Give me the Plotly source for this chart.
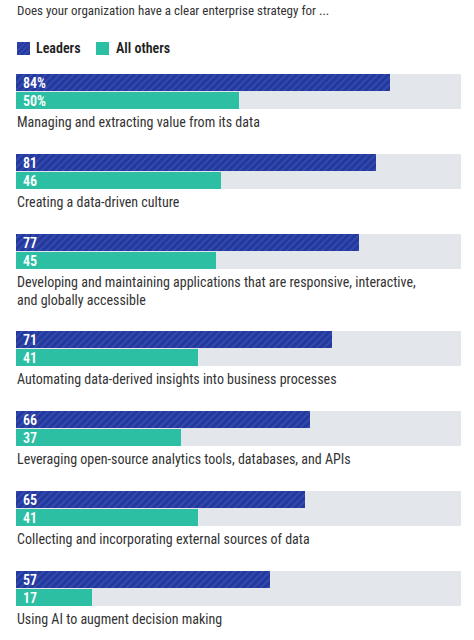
import plotly.graph_objects as go

title = "Does your organization have a clear enterprise strategy for ..."
categories = [
    "Managing and extracting value from its data",
    "Creating a data-driven culture",
    "Developing and maintaining applications that are responsive, interactive,<br>and globally accessible",
    "Automating data-derived insights into business processes",
    "Leveraging open-source analytics tools, databases, and APIs",
    "Collecting and incorporating external sources of data",
    "Using AI to augment decision making",
]
leaders = [84, 81, 77, 71, 66, 65, 57]
others = [50, 46, 45, 41, 37, 41, 17]
series_names = ["Leaders", "All others"]

NAVY = "#23399c"
HATCH = "#4a62c9"
TEAL = "#2dbfa4"
GRAY = "#e3e6ea"
TEXT = "#333333"
FONT = "Roboto Condensed, Liberation Sans Narrow, Arial Narrow, Roboto, sans-serif"

W, H = 474, 640
LEFT = 16
SCALE = 4.45  # px per percentage point
BAR_H = 17
GROUP_GAP = 80
LINE_H = 17
LEG_Y = 48
LEG_SW = 13

tops = []
y = 74
for cat in categories:
    tops.append(y)
    extra = cat.count("<br>")
    y += GROUP_GAP + extra * LINE_H

lead_y = [t + BAR_H / 2 for t in tops]
oth_y = [t + BAR_H * 1.5 + 1 for t in tops]
bg_y = [t + (2 * BAR_H + 1) / 2 for t in tops]

lead_pattern = dict(shape="/", fgcolor=HATCH, bgcolor=NAVY, size=5, solidity=0.3)

fig = go.Figure()
fig.add_trace(go.Bar(
    x=[100] * len(categories), y=bg_y, orientation="h", width=2 * BAR_H + 1,
    marker=dict(color=GRAY, line=dict(width=0)), showlegend=False, hoverinfo="skip",
))
fig.add_trace(go.Bar(
    x=leaders, y=lead_y, orientation="h", width=BAR_H, name=series_names[0],
    marker=dict(color=NAVY, line=dict(width=0), pattern=lead_pattern), showlegend=False,
))
fig.add_trace(go.Bar(
    x=others, y=oth_y, orientation="h", width=BAR_H, name=series_names[1],
    marker=dict(color=TEAL, line=dict(width=0)), showlegend=False,
))

# legend swatches (drawn as small bars so that the hatch pattern matches)
leg_x_px = [LEFT + 1, 96]
leg_colors = [NAVY, TEAL]
for k, name in enumerate(series_names):
    base = (leg_x_px[k] - LEFT) / SCALE
    mk = dict(color=leg_colors[k], line=dict(width=0))
    if k == 0:
        mk["pattern"] = dict(shape="/", fgcolor=HATCH, bgcolor=NAVY, size=4, solidity=0.35)
    fig.add_trace(go.Bar(
        x=[LEG_SW / SCALE], base=[base], y=[LEG_Y], orientation="h", width=LEG_SW,
        marker=mk, showlegend=False, hoverinfo="skip",
    ))

annotations = []
leg_text_px = [34, 114]
for k, name in enumerate(series_names):
    annotations.append(dict(x=(leg_text_px[k] - LEFT) / SCALE, y=LEG_Y, text=name,
                            xanchor="left", yanchor="middle", showarrow=False,
                            font=dict(color="#222222", size=14, family=FONT, weight=600)))

for i, cat in enumerate(categories):
    lt = f"{leaders[i]}%" if i == 0 else f"{leaders[i]}"
    ot = f"{others[i]}%" if i == 0 else f"{others[i]}"
    annotations.append(dict(x=0, y=lead_y[i], text=lt, xanchor="left", yanchor="middle",
                            xshift=5, showarrow=False, font=dict(color="white", size=14, family=FONT, weight=600)))
    annotations.append(dict(x=0, y=oth_y[i], text=ot, xanchor="left", yanchor="middle",
                            xshift=5, showarrow=False, font=dict(color="white", size=14, family=FONT, weight=600)))
    annotations.append(dict(x=0, y=tops[i] + 2 * BAR_H + 4, text=cat, xanchor="left", yanchor="top",
                            align="left", showarrow=False, xshift=-1,
                            font=dict(color=TEXT, size=14, family=FONT)))
annotations.append(dict(x=LEFT / W, y=1 - 10 / H, xref="paper", yref="paper", text=title,
                        xanchor="left", yanchor="middle", showarrow=False, xshift=-1,
                        font=dict(color=TEXT, size=13, family=FONT)))

fig.update_layout(
    width=W, height=H, margin=dict(l=0, r=0, t=0, b=0),
    paper_bgcolor="white", plot_bgcolor="white",
    barmode="overlay", bargap=0,
    xaxis=dict(range=[-LEFT / SCALE, (W - LEFT) / SCALE], visible=False, fixedrange=True),
    yaxis=dict(range=[H, 0], visible=False, fixedrange=True),
    showlegend=False,
    annotations=annotations,
)

fig.write_html("out.html", config={"displayModeBar": False},
               post_script="document.body.style.margin='0';")
